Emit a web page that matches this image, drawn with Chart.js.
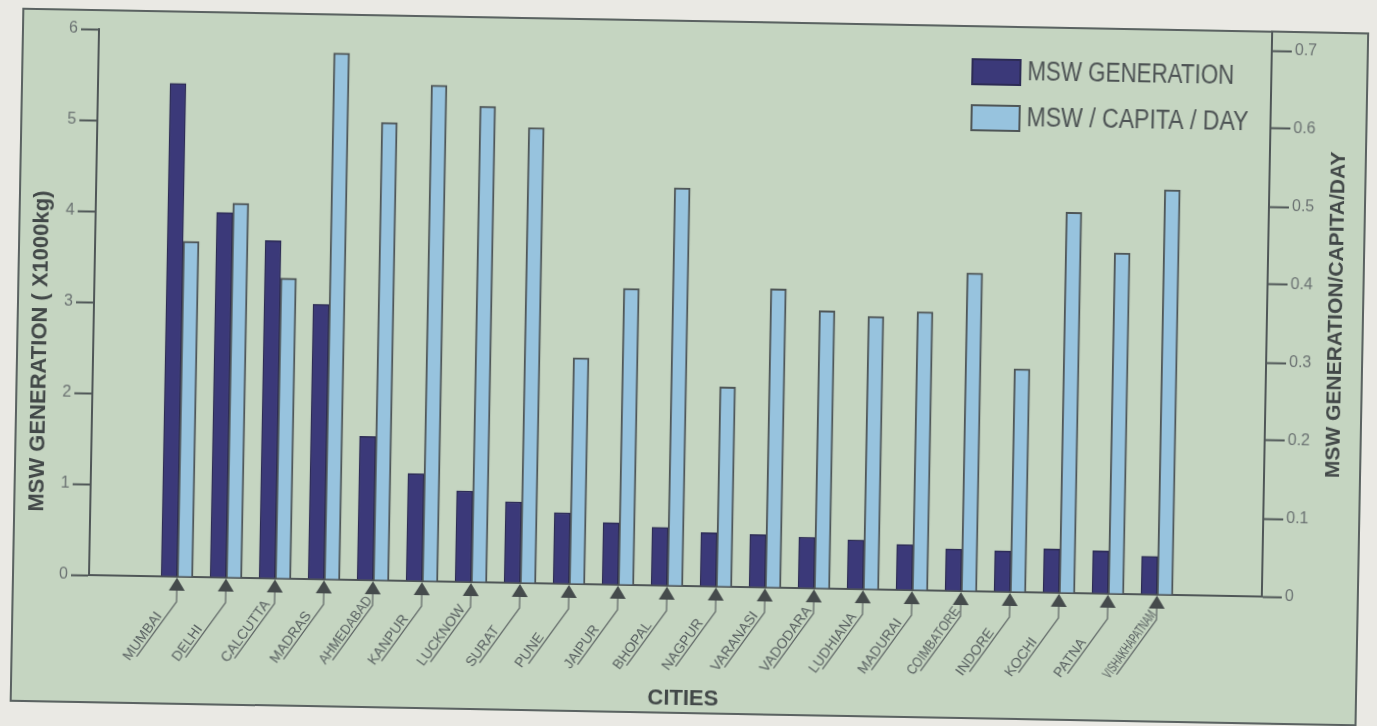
<!DOCTYPE html>
<html><head><meta charset="utf-8">
<script src="https://cdn.jsdelivr.net/npm/chart.js@4.4.1/dist/chart.umd.min.js"></script>
<style>
html,body{margin:0;padding:0;background:#eae9e4;width:1377px;height:726px;overflow:hidden}
#wrap{position:absolute;left:0;top:0;width:1377px;height:726px;transform:rotate(1.05deg);transform-origin:688px 363px}
#panel{position:absolute;left:16px;top:20px;width:1343px;height:690px;background:#c5d5c1;border:2px solid #5b6262}
canvas{position:absolute;left:0;top:0}
</style></head>
<body><div id="wrap"><div id="panel"></div><canvas id="c" width="1377" height="726"></canvas></div>
<script>
const cities = ['MUMBAI','DELHI','CALCUTTA','MADRAS','AHMEDABAD','KANPUR','LUCKNOW','SURAT','PUNE','JAIPUR','BHOPAL','NAGPUR','VARANASI','VADODARA','LUDHIANA','MADURAI','COIMBATORE','INDORE','KOCHI','PATNA','VISHAKHAPATNAM'];
const mswGeneration = [5.42, 4.01, 3.71, 3.02, 1.58, 1.18, 1.0, 0.89, 0.78, 0.68, 0.64, 0.59, 0.58, 0.56, 0.54, 0.50, 0.46, 0.45, 0.48, 0.47, 0.42];
const mswPerCapita = [0.43, 0.48, 0.385, 0.675, 0.587, 0.636, 0.61, 0.584, 0.29, 0.38, 0.51, 0.256, 0.383, 0.356, 0.35, 0.357, 0.408, 0.286, 0.488, 0.437, 0.519];
const leftTicks = [0, 1, 2, 3, 4, 5, 6];
const rightTicks = [0, 0.1, 0.2, 0.3, 0.4, 0.5, 0.6, 0.7];
const seriesNames = ['MSW GENERATION', 'MSW / CAPITA / DAY'];
const leftTitle = 'MSW GENERATION ( X1000kg)';
const rightTitle = 'MSW GENERATION/CAPITA/DAY';
const xTitle = 'CITIES';

const INK = '#4f5657';
const DARK = '#3b3979';
const LIGHT = '#97c3de';
const TICKTXT = '#6b7272';

const decor = {
  id: 'decor',
  afterDraw(chart) {
    const ctx = chart.ctx, ca = chart.chartArea, xs = chart.scales.x;
    const y0 = chart.scales.y.getPixelForValue(0);
    ctx.save();
    ctx.strokeStyle = INK; ctx.lineWidth = 2;
    ctx.beginPath(); ctx.moveTo(ca.right, 21); ctx.lineTo(ca.right, ca.top); ctx.stroke();

    const ang = 55 * Math.PI / 180;
    cities.forEach((name, i) => {
      const cx = xs.getPixelForValue(i);
      ctx.fillStyle = '#454b4c';
      ctx.beginPath();
      ctx.moveTo(cx, y0 + 1); ctx.lineTo(cx - 8, y0 + 14); ctx.lineTo(cx + 8, y0 + 14);
      ctx.closePath(); ctx.fill();
      const yk = y0 + 25, L = 68;
      const ex = cx - L * Math.cos(ang), ey = yk + L * Math.sin(ang);
      ctx.strokeStyle = '#5b6262'; ctx.lineWidth = 1.2;
      ctx.beginPath(); ctx.moveTo(cx, y0 + 14); ctx.lineTo(cx, yk); ctx.lineTo(ex, ey); ctx.stroke();
      ctx.save();
      ctx.translate(ex, ey); ctx.rotate(-ang);
      ctx.font = '14px "Liberation Sans", Arial, sans-serif';
      ctx.fillStyle = '#586060'; ctx.textAlign = 'left'; ctx.textBaseline = 'alphabetic';
      ctx.fillText(name, -8, -3, 80);
      ctx.restore();
    });

    ctx.fillStyle = '#424848';
    ctx.textAlign = 'center'; ctx.textBaseline = 'middle';
    ctx.save(); ctx.translate(40, 363); ctx.rotate(-Math.PI / 2);
    ctx.font = 'bold 22px "Liberation Sans", Arial, sans-serif';
    ctx.fillText(leftTitle, 0, 0); ctx.restore();
    ctx.save(); ctx.translate(1335, 303); ctx.rotate(-Math.PI / 2);
    ctx.font = 'bold 21px "Liberation Sans", Arial, sans-serif';
    ctx.fillText(rightTitle, 0, 0); ctx.restore();
    ctx.font = 'bold 22px "Liberation Sans", Arial, sans-serif';
    ctx.fillText(xTitle, 689, 699);

    const items = [[DARK, '#2d2c55', 54, 67], [LIGHT, INK, 100, 113]];
    items.forEach(([fill, stroke, by, ty], k) => {
      ctx.fillStyle = fill; ctx.fillRect(967, by, 48, 25);
      ctx.strokeStyle = stroke; ctx.lineWidth = 2; ctx.strokeRect(967, by, 48, 25);
      ctx.fillStyle = '#4d5354';
      ctx.font = '27px "Liberation Sans Narrow", "Liberation Sans", Arial, sans-serif';
      ctx.textAlign = 'left'; ctx.textBaseline = 'middle';
      ctx.fillText(seriesNames[k], 1022, ty, k === 0 ? 207 : 222);
    });
    ctx.restore();
  }
};

const ticksFrom = arr => s => { s.ticks = arr.map(v => ({ value: v })); };

new Chart(document.getElementById('c'), {
  type: 'bar',
  data: {
    datasets: [
      { label: seriesNames[0], data: cities.map((c, i) => ({ x: i, y: mswGeneration[i] })), yAxisID: 'y',
        backgroundColor: DARK, borderColor: '#2d2c55', borderWidth: 1.5, barThickness: 16 },
      { label: seriesNames[1], data: cities.map((c, i) => ({ x: i, y: mswPerCapita[i] })), yAxisID: 'y1',
        backgroundColor: LIGHT, borderColor: INK, borderWidth: 2, barThickness: 16 }
    ]
  },
  options: {
    responsive: false, animation: false, devicePixelRatio: 1,
    layout: { padding: { top: 40, left: 0, right: 0, bottom: 0 } },
    plugins: { legend: { display: false }, tooltip: { enabled: false } },
    scales: {
      x: { type: 'linear', position: 'bottom', offset: false, bounds: 'data',
        min: -1.796, max: cities.length - 1 + 2.14,
        grid: { display: false, drawTicks: false, offset: false }, ticks: { display: false },
        border: { display: true, color: INK, width: 2 },
        afterFit: s => { s.height = 140; } },
      y: { position: 'left', min: 0, max: 6, afterBuildTicks: ticksFrom(leftTicks),
        grid: { drawOnChartArea: false, drawTicks: true, tickLength: 18, tickColor: INK, tickWidth: 2 },
        border: { display: true, color: INK, width: 2 },
        ticks: { color: TICKTXT, padding: 3, font: { size: 16, family: '"Liberation Sans", Arial, sans-serif' } },
        afterFit: s => { s.width = 93; } },
      y1: { position: 'right', min: 0, max: 0.7, afterBuildTicks: ticksFrom(rightTicks),
        grid: { drawOnChartArea: false, drawTicks: true, tickLength: 20, tickColor: INK, tickWidth: 2 },
        border: { display: true, color: INK, width: 2 },
        ticks: { color: TICKTXT, padding: 3, font: { size: 16, family: '"Liberation Sans", Arial, sans-serif' },
          callback: v => v === 0 ? '0' : v.toFixed(1) },
        afterFit: s => { s.width = 111; } }
    }
  },
  plugins: [decor]
});
</script>
</body></html>
